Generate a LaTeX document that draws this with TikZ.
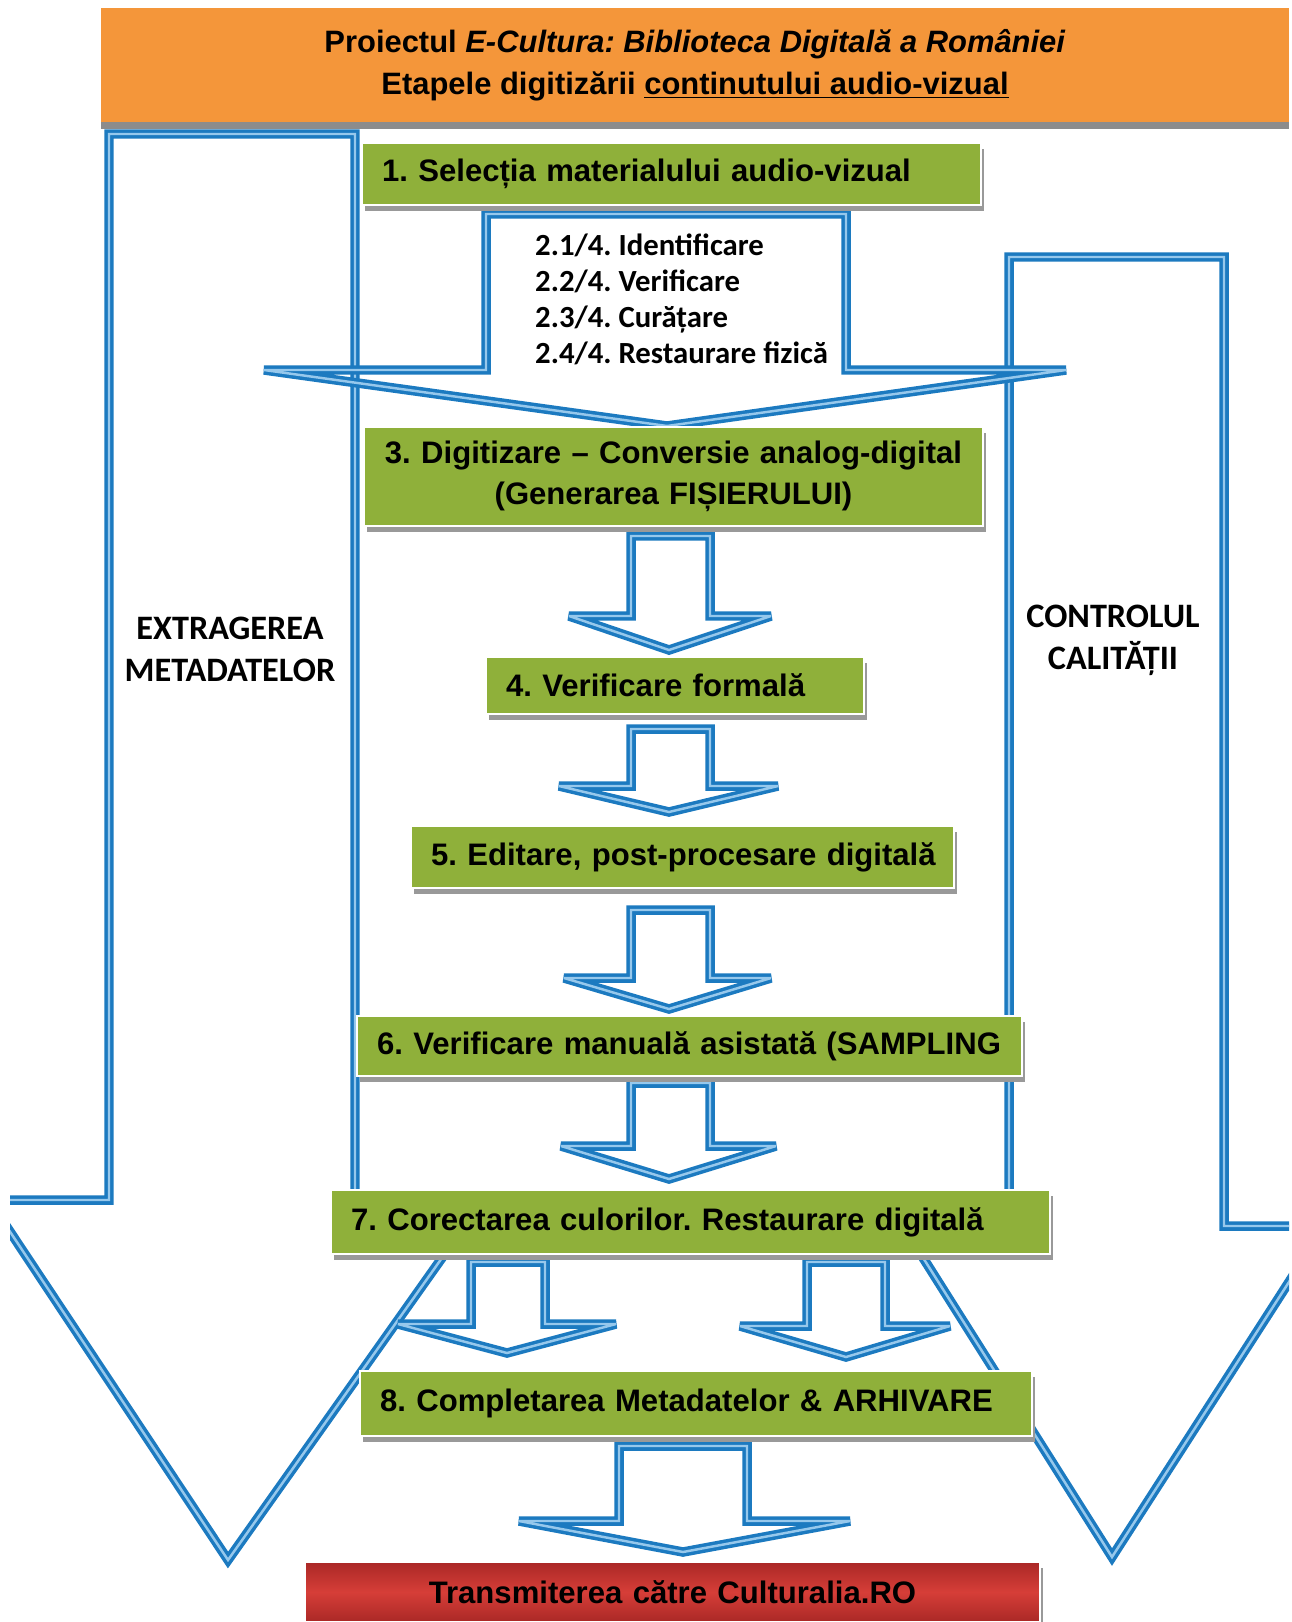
\documentclass[tikz,border=0pt]{standalone}
\usepackage{fontspec}
\setmainfont{Liberation Sans}
\newfontfamily\calfont{Carlito}
\usepackage{tikz}
\usetikzlibrary{shadows}
\usepackage{xcolor}
\definecolor{headorange}{RGB}{244,150,58}
\definecolor{stagegreen}{RGB}{143,176,58}
\definecolor{arrowblue}{RGB}{28,122,192}
\definecolor{arrowlight}{RGB}{150,200,236}
\definecolor{finalred}{RGB}{214,62,56}
\definecolor{finaldark}{RGB}{170,40,38}

\begin{document}
\frenchspacing
\begin{tikzpicture}[x=0.02cm, y=-0.02cm,
  headbox/.style={fill=headorange, minimum width=23.76cm, minimum height=2.28cm, align=center,
    font=\bfseries\fontsize{17.6}{23.8}\selectfont,
    drop shadow={fill=black!45, opacity=1, shadow xshift=0pt, shadow yshift=-4pt}},
  stage/.style={draw=white, line width=1.5pt, fill=stagegreen, inner xsep=0.4cm, inner ysep=0pt,
    align=left, font=\bfseries\fontsize{17.7}{23.5}\selectfont,
    drop shadow={fill=black!40, opacity=1, shadow xshift=1.5pt, shadow yshift=-3.5pt}},
  finalbox/.style={stage, top color=finaldark, bottom color=finaldark, middle color=finalred, align=center},
  blockarrow/.style={draw=arrowblue, line width=2pt, double=arrowlight, double distance=1.4pt, miter limit=2.5},
  sidelabel/.style={align=center, font=\calfont\bfseries\fontsize{19.5}{23.8}\selectfont}
]
  \useasboundingbox (0,0) rectangle (1291,1622);
  \fill[white] (0,0) rectangle (1291,1622);
  \begin{scope}
  \clip (10,0) rectangle (1289,1622);

  \node[headbox] (head) at (695,65) {Proiectul \textit{E-Cultura: Biblioteca Digitală a României}\\
    Etapele digitizării \underline{continutului audio-vizual}};

  % large side arrows
  \draw[blockarrow] (109,134) -- (355,134) -- (355,1200) -- (483,1200) -- (228,1560)
    -- (-11,1200) -- (109,1200) -- cycle;
  \draw[blockarrow] (1009,257) -- (1224,257) -- (1224,1226) -- (1325,1226) -- (1112,1557)
    -- (903,1226) -- (1009,1226) -- cycle;

  % flow arrows
  \draw[blockarrow] (486,214) -- (846,214) -- (846,370) -- (1066,370) -- (667,426)
    -- (264,370) -- (486,370) -- cycle;
  \draw[blockarrow] (631,536) -- (710,536) -- (710,616) -- (771,616) -- (669,650)
    -- (569,616) -- (631,616) -- cycle;
  \draw[blockarrow] (631,729) -- (710,729) -- (710,786) -- (778,786) -- (669,812)
    -- (559,786) -- (631,786) -- cycle;
  \draw[blockarrow] (631,910) -- (710,910) -- (710,978) -- (771,978) -- (669,1009)
    -- (564,978) -- (631,978) -- cycle;
  \draw[blockarrow] (631,1083) -- (710,1083) -- (710,1146) -- (776,1146) -- (669,1179)
    -- (561,1146) -- (631,1146) -- cycle;
  \draw[blockarrow] (471,1262) -- (545,1262) -- (545,1324) -- (616,1324) -- (507,1353)
    -- (398,1324) -- (471,1324) -- cycle;
  \draw[blockarrow] (807,1262) -- (885,1262) -- (885,1326) -- (950,1326) -- (846,1357)
    -- (740,1326) -- (807,1326) -- cycle;
  \draw[blockarrow] (619,1446) -- (747,1446) -- (747,1521) -- (850,1521) -- (683,1552)
    -- (519,1521) -- (619,1521) -- cycle;

  \node[anchor=west, align=left, font=\calfont\bfseries\fontsize{17.5}{20.5}\selectfont] (sub) at (529,299)
    {2.1/4. Identificare\\ 2.2/4. Verificare\\ 2.3/4. Curățare\\ 2.4/4. Restaurare fizică};

  \node[stage, text width=11.58cm, minimum height=1.24cm] (s1) at (671.5,174)
    {\mbox{1. Selecția materialului audio-vizual}};
  \node[stage, text width=11.58cm, minimum height=1.98cm, align=center] (s3) at (673.5,476.5)
    {3. Digitizare – Conversie analog-digital\\ (Generarea FIȘIERULUI)};
  \node[stage, text width=6.76cm, minimum height=1.14cm] (s4) at (675,685.5)
    {\mbox{4. Verificare formală}};
  \node[stage, text width=10.06cm, minimum height=1.24cm] (s5) at (682.5,857)
    {\mbox{5. Editare, post-procesare digitală}};
  \node[stage, text width=12.5cm, minimum height=1.2cm] (s6) at (689.5,1046)
    {\mbox{6. Verificare manuală asistată (SAMPLING}};
  \node[stage, text width=13.58cm, minimum height=1.28cm] (s7) at (690.5,1222)
    {\mbox{7. Corectarea culorilor. Restaurare digitală}};
  \node[stage, text width=12.64cm, minimum height=1.3cm] (s8) at (696,1403.5)
    {\mbox{8. Completarea Metadatelor \& ARHIVARE}};
  \node[finalbox, text width=13.9cm, minimum height=1.2cm] (out) at (672.5,1592)
    {Transmiterea către Culturalia.RO};

  \node[sidelabel] (meta) at (230,649) {EXTRAGEREA\\ METADATELOR};
  \node[sidelabel] (qual) at (1113,640) {CONTROLUL\\ CALITĂȚII};
  \end{scope}
\end{tikzpicture}
\end{document}
